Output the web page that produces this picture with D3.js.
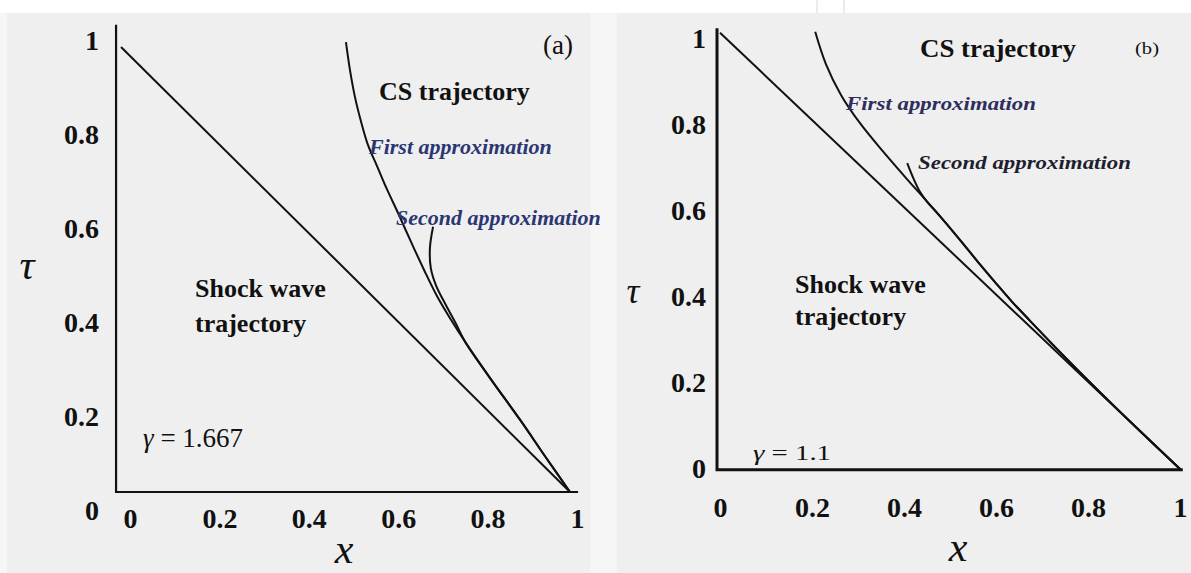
<!DOCTYPE html>
<html>
<head>
<meta charset="utf-8">
<script src="https://cdn.jsdelivr.net/npm/d3@7/dist/d3.min.js"></script>
<style>
  body { margin: 0; background: #fff; }
  #chart { width: 1191px; height: 573px; }
  text { font-family: 'Liberation Serif', 'Times New Roman', serif; }
</style>
</head>
<body>
<div id="chart"></div>
<script>
//Datos (x, tau)
const TICKS = [0, 0.2, 0.4, 0.6, 0.8, 1];
const TICK_LABELS = ['0', '0.2', '0.4', '0.6', '0.8', '1'];

//Panel (a), gamma = 1.667
const shockA = [[0, 1], [1, 0]];
const firstA = [[0.501, 1.011], [0.510, 0.948], [0.521, 0.888], [0.535, 0.831], [0.550, 0.780],
    [0.570, 0.733], [0.592, 0.681], [0.617, 0.627], [0.646, 0.562], [0.675, 0.499],
    [0.704, 0.440], [0.735, 0.387], [0.768, 0.335], [0.822, 0.256], [0.889, 0.162],
    [0.944, 0.081], [1, 0]];
const secondA = [[0.695, 0.596], [0.688, 0.548], [0.690, 0.503], [0.702, 0.463], [0.722, 0.423],
    [0.744, 0.382], [0.768, 0.335], [0.822, 0.256], [0.889, 0.162], [0.944, 0.081], [1, 0]];

//Panel (b), gamma = 1.1
const shockB = [[0, 1.01], [1, 0]];
const firstB = [[0.207, 1.012], [0.230, 0.938], [0.263, 0.866], [0.304, 0.801], [0.352, 0.738],
    [0.404, 0.674], [0.461, 0.606], [0.522, 0.530], [0.561, 0.479], [0.596, 0.435],
    [0.635, 0.387], [0.674, 0.343], [0.750, 0.259], [0.826, 0.178], [0.913, 0.088], [1, 0]];
const secondB = [[0.407, 0.708], [0.420, 0.674], [0.435, 0.641], [0.452, 0.616], [0.472, 0.593],
    [0.522, 0.530], [0.561, 0.479], [0.596, 0.435], [0.635, 0.387], [0.674, 0.343],
    [0.750, 0.259], [0.826, 0.178], [0.913, 0.088], [1, 0]];

const W = 1191, H = 573;

let svg = d3.select('#chart')
    .append('svg')
        .attr('width', W)
        .attr('height', H);

//Fondo
svg.append('rect').attr('width', W).attr('height', H).attr('fill', '#ffffff');
svg.append('rect').attr('x', 0).attr('y', 13).attr('width', W).attr('height', H - 13).attr('fill', '#efefef');
svg.append('rect').attr('x', 0).attr('y', 13).attr('width', 7).attr('height', H - 13).attr('fill', '#f6f6f6');
svg.append('rect').attr('x', 590).attr('y', 13).attr('width', 27).attr('height', H - 13).attr('fill', '#f5f5f5');
[817, 844].forEach(function(px) {
    svg.append('line').attr('x1', px).attr('x2', px).attr('y1', 0).attr('y2', 13)
        .attr('stroke', '#d8d8d8').attr('stroke-width', 1);
});

function drawPanel(cfg) {
    let g = svg.append('g');

    //Marco de ejes
    g.append('path')
        .attr('d', d3.line()([
            [cfg.x(cfg.frame.x0), cfg.y(cfg.frame.y1)],
            [cfg.x(cfg.frame.x0), cfg.y(cfg.frame.y0)],
            [cfg.x(cfg.frame.x1), cfg.y(cfg.frame.y0)]
        ]))
        .attr('fill', 'none')
        .attr('stroke', '#111')
        .attr('stroke-width', cfg.axisWidth);

    //Etiquetas de ejes
    let gx = g.append('g')
        .attr('transform', 'translate(0,' + cfg.xLabelY + ')')
        .call(d3.axisBottom(cfg.xt).tickValues(TICKS).tickSize(0).tickFormat(function(d, i) { return TICK_LABELS[i]; }));
    gx.select('.domain').remove();
    gx.selectAll('text')
        .attr('y', 0).attr('dy', '0.35em')
        .style('font-family', "'Liberation Serif', serif")
        .style('font-size', cfg.tickSize + 'px')
        .style('font-weight', 'bold')
        .attr('fill', '#111');

    let gy = g.append('g')
        .attr('transform', 'translate(' + cfg.yLabelX + ',0)')
        .call(d3.axisLeft(cfg.yt).tickValues(TICKS).tickSize(0).tickPadding(0).tickFormat(function(d, i) { return TICK_LABELS[i]; }));
    gy.select('.domain').remove();
    gy.selectAll('text')
        .attr('dy', '0.35em')
        .style('font-family', "'Liberation Serif', serif")
        .style('font-size', cfg.tickSize + 'px')
        .style('font-weight', 'bold')
        .attr('fill', '#111');

    //Curvas
    let line = d3.line()
        .x(function(d) { return cfg.x(d[0]); })
        .y(function(d) { return cfg.y(d[1]); });
    let smooth = d3.line()
        .x(function(d) { return cfg.x(d[0]); })
        .y(function(d) { return cfg.y(d[1]); })
        .curve(d3.curveCatmullRom.alpha(0.5));

    g.append('path').attr('d', line(cfg.shock))
        .attr('fill', 'none').attr('stroke', '#111').attr('stroke-width', cfg.lineWidth);
    g.append('path').attr('d', smooth(cfg.first))
        .attr('fill', 'none').attr('stroke', '#111').attr('stroke-width', cfg.lineWidth);
    g.append('path').attr('d', smooth(cfg.second))
        .attr('fill', 'none').attr('stroke', '#111').attr('stroke-width', cfg.lineWidth);

    //Textos
    cfg.texts.forEach(function(t) {
        let el = g.append('text')
            .attr('x', t.x)
            .attr('y', t.y)
            .attr('dy', '0.35em')
            .attr('text-anchor', t.anchor || 'start')
            .attr('fill', t.color || '#111')
            .style('font-size', t.size + 'px')
            .style('font-weight', t.bold ? 'bold' : 'normal')
            .style('font-style', t.italic ? 'italic' : 'normal');
        if (t.len) { el.attr('textLength', t.len).attr('lengthAdjust', 'spacingAndGlyphs'); }
        if (t.gamma) {
            el.append('tspan').style('font-style', 'italic').text('\u03b3');
            el.append('tspan').text(' = ' + t.gamma);
        } else {
            el.text(t.label);
        }
    });
}

//Panel (a)
let xA = d3.scaleLinear().domain([0, 1]).range([121, 570]);
let yA = d3.scaleLinear().domain([0, 1]).range([492, 47]);
drawPanel({
    x: xA, y: yA,
    xt: d3.scaleLinear().domain([0, 1]).range([130, 577]),
    yt: d3.scaleLinear().domain([0, 1]).range([510, 40]),
    xLabelY: 518, yLabelX: 99, tickSize: 28,
    frame: { x0: -0.011, x1: 1.018, y0: 0, y1: 1.05 },
    axisWidth: 2.2, lineWidth: 2,
    shock: shockA, first: firstA, second: secondA,
    texts: [
        { label: '(a)', x: 558, y: 45, size: 27, anchor: 'middle' },
        { label: 'CS trajectory', x: 379, y: 91, size: 26, bold: true },
        { label: 'First approximation', x: 369, y: 146, size: 22, bold: true, italic: true, color: '#2b3673' },
        { label: 'Second approximation', x: 396, y: 217, size: 22, bold: true, italic: true, color: '#2b3673' },
        { label: 'Shock wave', x: 195, y: 288, size: 26, bold: true },
        { label: 'trajectory', x: 195, y: 323, size: 26, bold: true },
        { gamma: '1.667', x: 143, y: 438, size: 27 },
        { label: '\u03c4', x: 27, y: 264, size: 42, italic: true, anchor: 'middle' },
        { label: 'x', x: 344, y: 548, size: 42, italic: true, anchor: 'middle' }
    ]
});

//Panel (b)
let xB = d3.scaleLinear().domain([0, 1]).range([720, 1180]);
let yB = d3.scaleLinear().domain([0, 1]).range([469, 37]);
drawPanel({
    x: xB, y: yB,
    xt: xB,
    yt: d3.scaleLinear().domain([0, 1]).range([468, 38]),
    xLabelY: 507, yLabelX: 706, tickSize: 28,
    frame: { x0: -0.0065, x1: 1.006, y0: -0.002, y1: 1.02 },
    axisWidth: 3, lineWidth: 2,
    shock: shockB, first: firstB, second: secondB,
    texts: [
        { label: '(b)', x: 1147, y: 48, size: 16, anchor: 'middle', len: 24 },
        { label: 'CS trajectory', x: 920, y: 48, size: 26, bold: true, len: 156 },
        { label: 'First approximation', x: 846, y: 103, size: 19, bold: true, italic: true, color: '#2e2e5c', len: 190 },
        { label: 'Second approximation', x: 918, y: 162, size: 19, bold: true, italic: true, color: '#1e1e2e', len: 213 },
        { label: 'Shock wave', x: 795, y: 284, size: 26, bold: true },
        { label: 'trajectory', x: 795, y: 316, size: 26, bold: true },
        { gamma: '1.1', x: 753, y: 452, size: 22, len: 78 },
        { label: '\u03c4', x: 633, y: 290, size: 36, italic: true, anchor: 'middle' },
        { label: 'x', x: 958, y: 546, size: 42, italic: true, anchor: 'middle' }
    ]
});
</script>
</body>
</html>
